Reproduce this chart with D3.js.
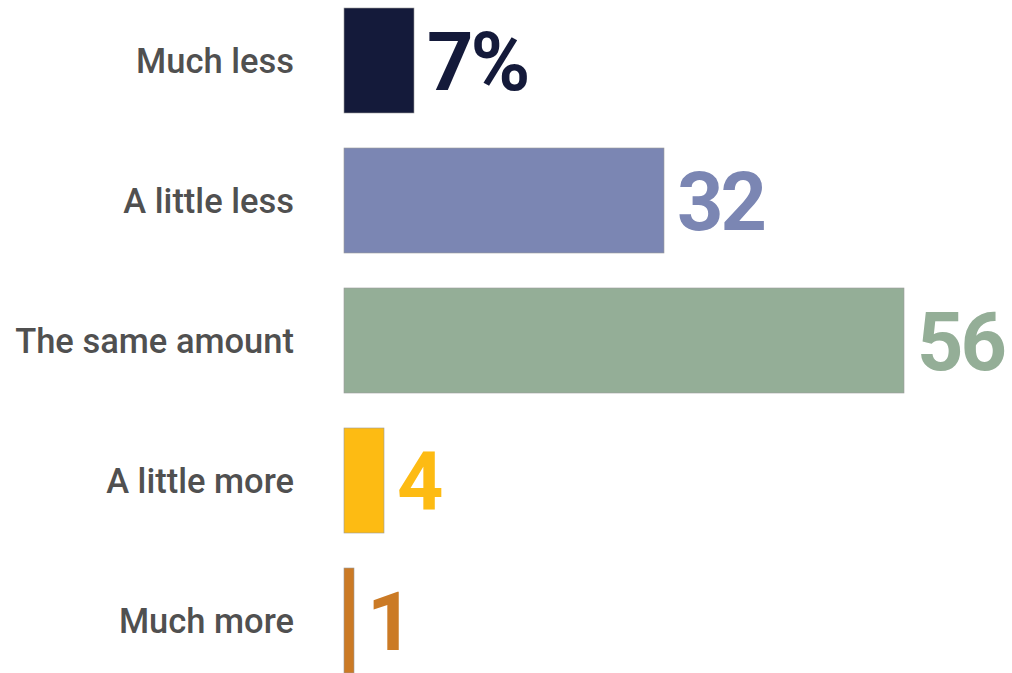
<!DOCTYPE html>
<html>
<head>
<meta charset="utf-8">
<script src="https://cdn.jsdelivr.net/npm/d3@7"></script>
<style>
  html, body { margin: 0; padding: 0; background: #fff; }
  svg { display: block; }
</style>
</head>
<body>
<div id="chart"></div>
<script>
// data
const categories = ["Much less", "A little less", "The same amount", "A little more", "Much more"];
const values     = [7, 32, 56, 4, 1];
const valueTexts = ["7%", "32", "56", "4", "1"];
const colors     = ["#141a3a", "#7b86b3", "#94ae97", "#fdbb13", "#cb7a25"];

const W = 1012, H = 673;
const margin = {left: 344, top: 8, right: 48, bottom: 0};

const svg = d3.select("#chart").append("svg")
  .attr("width", W)
  .attr("height", H)
  .attr("viewBox", "0 0 " + W + " " + H);

// 10px per percent, 56 -> 560px
const x = d3.scaleLinear().domain([0, 56]).range([margin.left, margin.left + 560]);
// step 140, bar 105
const y = d3.scaleBand().domain(categories)
  .range([margin.top, margin.top + 4 * 140 + 105])
  .paddingInner(0.25).paddingOuter(0);

const rows = svg.append("g").selectAll("g")
  .data(categories)
  .join("g");

rows.append("rect")
  .attr("x", x(0))
  .attr("y", d => y(d))
  .attr("width", (d, i) => x(values[i]) - x(0))
  .attr("height", y.bandwidth())
  .attr("fill", (d, i) => colors[i])
  .attr("stroke", "#9a9a9a")
  .attr("stroke-width", 0.6);

// category labels, right aligned
rows.append("text")
  .attr("x", 294)
  .attr("y", d => y(d) + y.bandwidth() / 2 + 12.5)
  .attr("text-anchor", "end")
  .style("font-family", "Roboto, sans-serif")
  .style("font-weight", 500)
  .style("font-size", "34.5px")
  .style("fill", "#505050")
  .text(d => d);

// value labels
rows.append("text")
  .attr("x", (d, i) => x(values[i]) + 13)
  .attr("y", d => y(d) + y.bandwidth() / 2 + 29)
  .style("font-family", "Roboto, sans-serif")
  .style("font-weight", 700)
  .style("font-size", "81px")
  .style("letter-spacing", "-3px")
  .style("fill", (d, i) => colors[i])
  .text((d, i) => valueTexts[i]);
</script>
</body>
</html>
